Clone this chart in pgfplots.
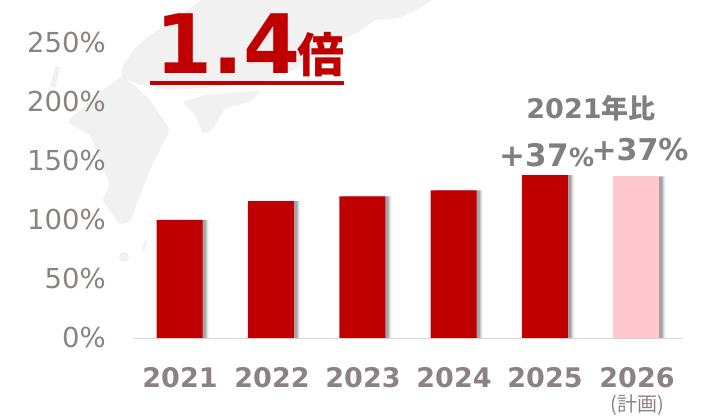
\documentclass[border=0pt]{standalone}
\usepackage{pgfplots}
\pgfplotsset{compat=1.18}
\usepackage{fontspec}
\setmainfont{DejaVu Sans}
\newfontfamily\cjk{Noto Sans CJK JP}
\definecolor{tg}{HTML}{8C8281}
\definecolor{lg}{HTML}{7F7F7F}
\definecolor{rd}{HTML}{C00000}
\definecolor{pk}{HTML}{FFC7CE}
\definecolor{mp}{HTML}{F1F1F1}
\pgfplotstableread{
x y
0 100
1 116
2 120
3 125
4 138
}\solid
\pgfplotstableread{
x y
5 137
}\plan
\pgfplotstableread{
x y
0 100
1 116
2 120
3 125
4 138
5 137
}\all
\begin{document}
\begin{tikzpicture}[x=1pt,y=1pt]
\path (0,0) rectangle (713,417);
% faint map
\begin{scope}[shift={(0,417)},yscale=-1]
\fill[mp,rounded corners=3pt] (122,67) -- (135,48) -- (150,35) -- (175,20) -- (200,0) -- (433,0) -- (420,8) -- (400,18) -- (375,20) -- (357,33) -- (340,40) -- (320,50) -- (298,68) -- (270,80) -- (240,84) -- (205,88) -- (170,90) -- (140,85) -- (122,78) -- cycle;
\fill[mp,rounded corners=3pt] (122,76) -- (100,92) -- (80,110) -- (67,122) -- (90,135) -- (100,160) -- (110,185) -- (102,200) -- (120,225) -- (130,222) -- (140,195) -- (150,170) -- (170,130) -- (160,115) -- (150,100) -- (135,86) -- cycle;
\fill[mp,rounded corners=3pt] (182,102) -- (205,95) -- (240,92) -- (262,90) -- (250,102) -- (225,108) -- (212,130) -- (203,134) -- (195,115) -- cycle;
\fill[mp] (50,87) -- (55,67) -- (60,67) -- (56,87) -- cycle;
\fill[mp,rounded corners=2pt] (141,250) -- (146,238) -- (148,240) -- (144,252) -- cycle;
\fill[mp] (124,257) circle (5);
\end{scope}
\begin{axis}[
  at={(134pt,79pt)}, anchor=south west,
  x=91.33pt, y=1.18pt,
  xmin=-0.5, xmax=5.5, ymin=0, ymax=290,
  scale only axis,
  axis lines=none,
  clip=false,
  ybar, bar width=46pt,
]
\addplot[ybar, draw=none, fill=black, fill opacity=.06, bar shift=6pt, forget plot] table {\all};
\addplot[ybar, draw=none, fill=black, fill opacity=.09, bar shift=5pt, forget plot] table {\all};
\addplot[ybar, draw=none, fill=black, fill opacity=.12, bar shift=4pt, forget plot] table {\all};
\addplot[ybar, draw=none, fill=black, fill opacity=.15, bar shift=3pt, forget plot] table {\all};
\addplot[ybar, draw=none, fill=rd, bar shift=0pt] table {\solid};
\addplot[ybar, draw=none, fill=pk, bar shift=0pt] table {\plan};
\end{axis}
% axis line and labels
\draw[color=black!17, line width=1.5pt] (134,78.5) -- (682,78.5);
\foreach \v/\yy in {0/80,50/139,100/198,150/257,200/316,250/375}
  \node[anchor=east, text=tg, font=\fontsize{27.5}{27.5}\selectfont, inner sep=0pt] at (106,\yy) {\v\%};
\foreach \t/\xx in {2021/180,2022/272,2023/363,2024/454,2025/545,2026/637}
  \node[text=tg, font=\fontsize{27}{27}\selectfont\bfseries, inner sep=0pt] at (\xx,39) {\t};
\node[text=tg, font=\fontsize{20}{20}\selectfont\cjk, inner sep=0pt] at (637,12) {(計画)};
% headline
\node[anchor=base west, text=rd, font=\fontsize{82}{82}\selectfont\bfseries, inner sep=0pt] at (155,343) {1.4};
\node[anchor=base west, text=rd, font=\fontsize{47}{47}\selectfont\cjk\bfseries, inner sep=0pt] at (297,344) {倍};
\fill[rd] (150,332) rectangle (344,336);
\node[text=lg, font=\fontsize{27}{27}\selectfont\bfseries, inner sep=0pt] at (591,309) {2021\cjk 年比};
\node[text=lg, font=\fontsize{31}{31}\selectfont\bfseries, inner sep=0pt] at (547,262) {+37{\fontsize{25}{25}\selectfont\%}};
\node[text=lg, font=\fontsize{30}{30}\selectfont\bfseries, inner sep=0pt] at (640,267) {+37\%};
\end{tikzpicture}
\end{document}
